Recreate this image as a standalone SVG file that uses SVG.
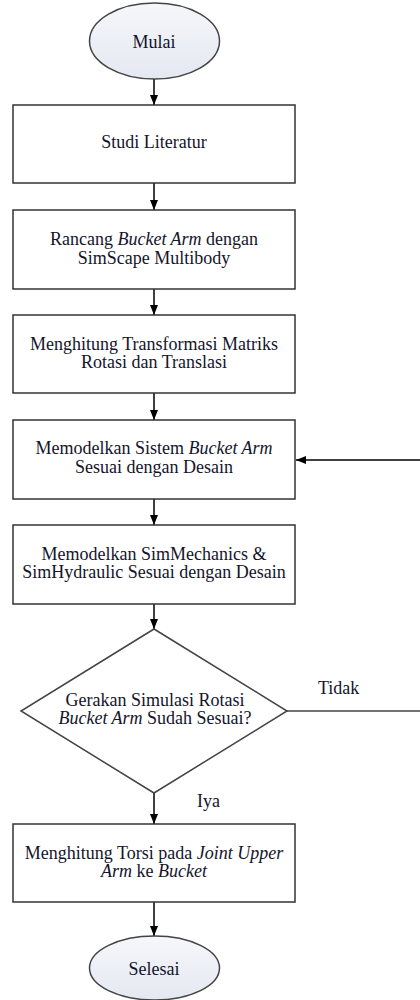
<svg xmlns="http://www.w3.org/2000/svg" width="420" height="1000" viewBox="0 0 420 1000">
  <defs>
    <linearGradient id="term" x1="0" y1="0" x2="0" y2="1">
      <stop offset="0" stop-color="#f6f7fb"/>
      <stop offset="1" stop-color="#e4e8f1"/>
    </linearGradient>
    <marker id="arr" markerUnits="userSpaceOnUse" markerWidth="10" markerHeight="10" viewBox="0 0 10 10" refX="10" refY="5" orient="auto">
      <path d="M0,1 L10,5 L0,9 Z" fill="#000"/>
    </marker>
  </defs>
  <style>
    .box { fill: #fff; stroke: #333; stroke-width: 1.5; }
    .term { fill: url(#term); stroke: #444; stroke-width: 1.5; }
    text { font-family: 'Liberation Serif', 'DejaVu Serif', serif; font-size: 18px; fill: #14142a; }
    .t { text-anchor: middle; }
    .i { font-style: italic; }
    .c { fill: none; stroke: #000; stroke-width: 1.5; }
    .cg { fill: none; stroke: #444; stroke-width: 1.5; }
  </style>
  <rect width="420" height="1000" fill="#fff"/>

  <g id="connectors">
    <line class="c" x1="154" y1="79" x2="154" y2="105" marker-end="url(#arr)"/>
    <line class="c" x1="154" y1="183" x2="154" y2="210" marker-end="url(#arr)"/>
    <line class="c" x1="154" y1="289" x2="154" y2="315" marker-end="url(#arr)"/>
    <line class="c" x1="154" y1="393" x2="154" y2="420" marker-end="url(#arr)"/>
    <line class="c" x1="154" y1="499" x2="154" y2="525" marker-end="url(#arr)"/>
    <line class="c" x1="154" y1="604" x2="154" y2="629" marker-end="url(#arr)"/>
    <line class="c" x1="154" y1="793" x2="154" y2="824" marker-end="url(#arr)"/>
    <line class="c" x1="154" y1="902" x2="154" y2="936" marker-end="url(#arr)"/>
    <line class="cg" x1="287" y1="711" x2="420" y2="711"/>
    <line class="c" x1="420" y1="460" x2="296" y2="460" marker-end="url(#arr)"/>
    <text x="318" y="694">Tidak</text>
    <text x="197" y="807">Iya</text>
  </g>

  <g id="mulai">
    <ellipse class="term" cx="154.5" cy="41" rx="65" ry="38"/>
    <text class="t" x="154" y="48">Mulai</text>
  </g>

  <g id="studi">
    <rect class="box" x="13" y="105" width="282" height="78"/>
    <text class="t" x="154" y="148">Studi Literatur</text>
  </g>

  <g id="rancang">
    <rect class="box" x="13" y="210" width="282" height="79"/>
    <text class="t" x="154" y="245">Rancang <tspan class="i">Bucket Arm</tspan> dengan</text>
    <text class="t" x="154" y="264">SimScape Multibody</text>
  </g>

  <g id="transformasi">
    <rect class="box" x="13" y="315" width="282" height="78"/>
    <text class="t" x="154" y="350">Menghitung Transformasi Matriks</text>
    <text class="t" x="154" y="368">Rotasi dan Translasi</text>
  </g>

  <g id="sistem">
    <rect class="box" x="13" y="420" width="282" height="79"/>
    <text class="t" x="154" y="454">Memodelkan Sistem <tspan class="i">Bucket Arm</tspan></text>
    <text class="t" x="154" y="473">Sesuai dengan Desain</text>
  </g>

  <g id="simmechanics">
    <rect class="box" x="13" y="525" width="282" height="79"/>
    <text class="t" x="154" y="560">Memodelkan SimMechanics &amp;</text>
    <text class="t" x="154" y="578">SimHydraulic Sesuai dengan Desain</text>
  </g>

  <g id="keputusan">
    <polygon class="box" points="154,629 287,711 154,793 21,711" style="stroke:#444"/>
    <text class="t" x="155" y="706">Gerakan Simulasi Rotasi</text>
    <text class="t" x="155" y="724"><tspan class="i">Bucket Arm</tspan> Sudah Sesuai?</text>
  </g>

  <g id="torsi">
    <rect class="box" x="13" y="824" width="282" height="78"/>
    <text class="t" x="154" y="859">Menghitung Torsi pada <tspan class="i">Joint Upper</tspan></text>
    <text class="t" x="154" y="877"><tspan class="i">Arm</tspan> ke <tspan class="i">Bucket</tspan></text>
  </g>

  <g id="selesai">
    <ellipse class="term" cx="154.5" cy="968" rx="65" ry="32"/>
    <text class="t" x="154" y="975">Selesai</text>
  </g>
</svg>
